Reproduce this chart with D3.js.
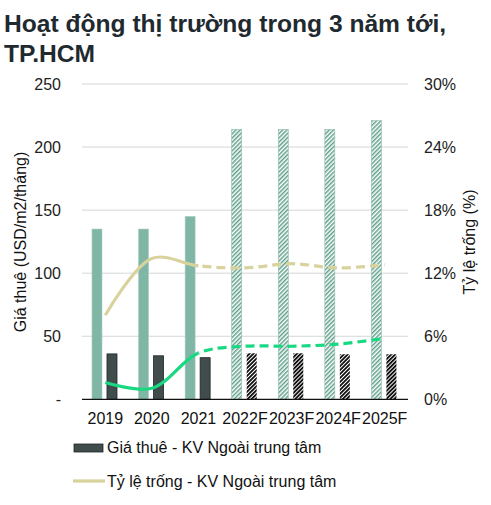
<!DOCTYPE html>
<html><head><meta charset="utf-8">
<script src="https://cdn.jsdelivr.net/npm/d3@7"></script>
<style>body{margin:0;background:#fff;}svg{display:block;font-family:"Liberation Sans",Arial,sans-serif;}</style>
</head><body>
<svg id="c" width="491" height="505"></svg>
<script>
const categories = ["2019","2020","2021","2022F","2023F","2024F","2025F"];
const forecast = [false,false,false,true,true,true,true];
const rentCenter = [135,135,145,214,214,214,221];
const rentOuter = [36,34.5,33,36.5,36.5,35.7,35.7];
const vacancyOuter = [8.0,13.4,12.7,12.5,12.9,12.5,12.8];
const vacancyCenter = [1.6,1.05,4.4,5.05,5.05,5.25,5.8];
const leftTicks = [0,50,100,150,200,250];
const rightTicks = [0,6,12,18,24,30];

const svg = d3.select("#c");
const L = 82, R = 408, T = 84, B = 399.3;
const x = d3.scaleBand().domain(categories).range([L,R]);
const yL = d3.scaleLinear().domain([0,250]).range([B,T]);
const yR = d3.scaleLinear().domain([0,30]).range([B,T]);
const FS = 16;

const defs = svg.append("defs");
const p1 = defs.append("pattern").attr("id","hatchG").attr("patternUnits","userSpaceOnUse")
  .attr("width",3).attr("height",3).attr("patternTransform","rotate(45)");
p1.append("rect").attr("width",3).attr("height",3).attr("fill","#fff");
p1.append("rect").attr("width",1.5).attr("height",3).attr("fill","#5f9f8a");
const p2 = defs.append("pattern").attr("id","hatchD").attr("patternUnits","userSpaceOnUse")
  .attr("width",2.8).attr("height",2.8).attr("patternTransform","rotate(45)");
p2.append("rect").attr("width",2.8).attr("height",2.8).attr("fill","#fff");
p2.append("rect").attr("width",1.8).attr("height",2.8).attr("fill","#0a0a0a");

// title
const title = svg.append("g").attr("font-weight","bold").attr("font-size",24.6).attr("fill","#1f2a30");
title.append("text").attr("x",4).attr("y",32).text("Hoạt động thị trường trong 3 năm tới,");
title.append("text").attr("x",4).attr("y",62).text("TP.HCM");

// grid
svg.append("g").selectAll("line").data(leftTicks.filter(d=>d>0)).join("line")
  .attr("x1",L).attr("x2",R).attr("y1",d=>yL(d)).attr("y2",d=>yL(d))
  .attr("stroke","#d3d7d7").attr("stroke-width",1);

// left axis
const gl = svg.append("g").attr("transform",`translate(${L-18},0)`)
  .call(d3.axisLeft(yL).tickValues(leftTicks).tickSize(0).tickFormat(d=>d===0?"-":d));
gl.select(".domain").remove();
gl.selectAll("text").attr("font-size",FS).attr("fill","#222").attr("font-family","Liberation Sans, Arial, sans-serif");

// right axis
const gr = svg.append("g").attr("transform",`translate(${R+13},0)`)
  .call(d3.axisRight(yR).tickValues(rightTicks).tickSize(0).tickFormat(d=>d+"%"));
gr.select(".domain").remove();
gr.selectAll("text").attr("font-size",FS).attr("fill","#222").attr("font-family","Liberation Sans, Arial, sans-serif");

// axis titles
svg.append("text").attr("transform",`translate(26,242) rotate(-90)`).attr("text-anchor","middle")
  .attr("font-size",FS).attr("fill","#111").text("Giá thuê (USD/m2/tháng)");
svg.append("text").attr("transform",`translate(475,242) rotate(-90)`).attr("text-anchor","middle")
  .attr("font-size",FS).attr("fill","#111").text("Tỷ lệ trống (%)");

// bars
const bw = 10;
const bars = svg.append("g");
bars.selectAll("rect.c").data(categories).join("rect").attr("class","c")
  .attr("x",d=>x(d)+x.bandwidth()/2-bw-3.3).attr("width",bw)
  .attr("y",(d,i)=>yL(rentCenter[i])).attr("height",(d,i)=>B-yL(rentCenter[i]))
  .attr("fill",(d,i)=>forecast[i]?"url(#hatchG)":"#80b6a6")
  .attr("stroke",(d,i)=>forecast[i]?"#8fbcae":"#a9ccc2").attr("stroke-width",0.6);
bars.selectAll("rect.o").data(categories).join("rect").attr("class","o")
  .attr("x",d=>x(d)+x.bandwidth()/2+1.7).attr("width",bw)
  .attr("y",(d,i)=>yL(rentOuter[i])).attr("height",(d,i)=>B-yL(rentOuter[i]))
  .attr("fill",(d,i)=>forecast[i]?"url(#hatchD)":"#414c4d")
  .attr("stroke",(d,i)=>forecast[i]?"none":"#1f2626").attr("stroke-width",0.8);

// baseline
svg.append("line").attr("x1",L).attr("x2",R).attr("y1",B).attr("y2",B).attr("stroke","#111").attr("stroke-width",1.2);

// x labels
svg.append("g").selectAll("text").data(categories).join("text")
  .attr("x",d=>x(d)+x.bandwidth()/2).attr("y",424).attr("text-anchor","middle")
  .attr("font-size",FS).attr("fill","#111").text(d=>d);

// lines
const cx = d=>x(d)+x.bandwidth()/2;
const splitX = cx("2021");
defs.append("clipPath").attr("id","solidClip").append("rect").attr("x",0).attr("y",0).attr("width",splitX).attr("height",505);
defs.append("clipPath").attr("id","dashClip").append("rect").attr("x",splitX).attr("y",0).attr("width",491-splitX).attr("height",505);
function drawLine(vals,color){
  const gen = d3.line().x((d,i)=>cx(categories[i])).y(d=>yR(d)).curve(d3.curveCatmullRom.alpha(0.5));
  const dpath = gen(vals);
  svg.append("path").attr("d",dpath).attr("fill","none").attr("stroke",color).attr("stroke-width",3.2)
    .attr("clip-path","url(#solidClip)").attr("stroke-linecap","butt");
  svg.append("path").attr("d",dpath).attr("fill","none").attr("stroke",color).attr("stroke-width",3.2)
    .attr("stroke-dasharray","9,5").attr("clip-path","url(#dashClip)");
}
drawLine(vacancyOuter,"#d8d39d");
drawLine(vacancyCenter,"#19d882");

// legend
svg.append("rect").attr("x",74).attr("y",444).attr("width",29).attr("height",8)
  .attr("fill","#414c4d").attr("stroke","#1f2626").attr("stroke-width",0.8);
svg.append("text").attr("x",107).attr("y",453).attr("font-size",FS).attr("fill","#111").text("Giá thuê - KV Ngoài trung tâm");
svg.append("line").attr("x1",73).attr("x2",105).attr("y1",481).attr("y2",481).attr("stroke","#d8d39d").attr("stroke-width",3.2);
svg.append("text").attr("x",107).attr("y",487).attr("font-size",FS).attr("fill","#111").text("Tỷ lệ trống - KV Ngoài trung tâm");
</script>
</body></html>
